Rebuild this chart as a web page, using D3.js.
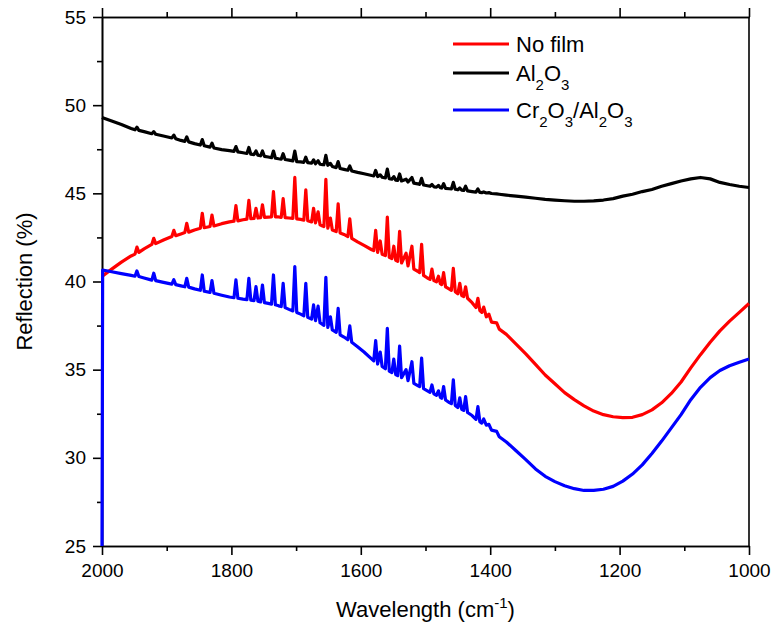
<!DOCTYPE html>
<html>
<head>
<meta charset="utf-8">
<script src="https://cdn.jsdelivr.net/npm/d3@7"></script>
<style>
  body { margin: 0; background: #fff; }
  svg { font-family: "Liberation Sans", Arial, sans-serif; }
</style>
</head>
<body>
<div id="chart"></div>
<script>
// wavenumber grid shared by the three spectra (cm-1)
var wave = [2000,1999,1985,1970,1955,1949,1946,1943,1935,1923,1920,1917,1905,1892,1889,1886,1878,1872,1869,1866,
  1857,1848,1845,1842,1833,1830,1827,1815,1803,1796,1793,1790,1782,1776,1773,1770,1765,1762,1759,1755,
  1752,1749,1743,1738,1735,1732,1727,1723,1720,1717,1711,1705,1702,1699,1693,1688,1685,1682,1676,1673,
  1670,1666,1663,1659,1657,1654,1651,1647,1644,1638,1635,1632,1626,1620,1617,1614,1605,1595,1583,1580,
  1577,1574,1570,1567,1562,1559,1556,1552,1549,1546,1543,1540,1537,1530,1527,1521,1518,1512,1509,1506,
  1503,1497,1493,1490,1487,1483,1480,1477,1475,1472,1469,1463,1460,1457,1454,1450,1447,1444,1441,1438,
  1435,1428,1422,1419,1416,1413,1410,1406,1402,1398,1390,1386,1375,1360,1345,1330,1315,1300,1285,1270,
  1255,1240,1225,1210,1195,1180,1165,1150,1135,1120,1105,1090,1075,1060,1045,1030,1015,1000];

var noFilm = [40.3,40.32,40.7,41.1,41.45,41.55,41.95,41.65,41.85,42.1,42.45,42.15,42.35,42.55,42.9,42.6,42.7,42.78,43.3,42.8,
  42.92,43.02,43.87,43.05,43.12,43.77,43.15,43.28,43.38,43.42,44.3,43.44,43.5,43.54,44.6,43.56,43.58,44.15,43.6,43.62,
  44.35,43.64,43.65,43.66,45.1,43.66,43.66,43.64,44.7,43.62,43.6,43.58,45.9,43.55,43.52,43.48,45.2,43.45,43.38,44.15,
  43.32,43.95,43.22,43.15,43.12,45.8,43.03,43.6,42.92,42.83,44.4,42.75,42.67,42.55,43.55,42.45,42.25,42.05,41.8,41.75,
  42.9,41.65,42.3,41.55,41.47,43.65,41.37,41.3,42.0,41.2,41.15,42.85,41.05,41.6,40.88,42.0,40.7,40.58,40.5,42.1,
  40.35,40.2,40.12,40.7,40.05,39.98,40.3,39.87,39.82,40.5,39.7,39.57,39.5,40.75,39.42,39.3,39.9,39.2,39.15,39.7,
  39.05,38.8,38.52,39.05,38.35,38.25,38.55,38.0,38.15,37.7,37.65,37.3,37.0,36.45,35.9,35.3,34.7,34.2,33.7,33.3,
  32.95,32.65,32.45,32.33,32.28,32.3,32.45,32.72,33.12,33.65,34.3,35.1,35.85,36.55,37.2,37.75,38.25,38.75];

var al2o3 = [49.3,49.28,49.1,48.9,48.68,48.6,48.75,48.57,48.5,48.38,48.5,48.35,48.25,48.14,48.3,48.1,48.0,47.95,48.2,47.92,
  47.82,47.74,48.05,47.7,47.62,47.85,47.57,47.48,47.42,47.38,47.65,47.35,47.3,47.26,47.6,47.22,47.2,47.4,47.16,47.13,
  47.4,47.1,47.06,47.02,47.4,46.99,46.96,46.94,47.25,46.92,46.88,46.84,47.4,46.8,46.78,46.76,47.05,46.74,46.71,46.9,
  46.68,46.85,46.65,46.63,46.62,47.15,46.59,46.7,46.52,46.46,46.8,46.41,46.36,46.31,46.55,46.27,46.19,46.11,46.01,45.99,
  46.3,45.95,46.05,45.91,45.88,46.37,45.83,45.8,45.95,45.75,45.73,46.1,45.7,45.8,45.64,45.9,45.58,45.54,45.51,45.85,
  45.47,45.43,45.4,45.5,45.37,45.35,45.45,45.32,45.3,45.55,45.28,45.26,45.25,45.62,45.23,45.2,45.3,45.18,45.16,45.4,
  45.14,45.1,45.07,45.25,45.05,45.04,45.08,45.02,45.04,44.99,44.97,44.95,44.9,44.84,44.78,44.72,44.66,44.62,44.58,44.55,
  44.55,44.57,44.62,44.7,44.84,44.95,45.1,45.22,45.4,45.55,45.7,45.82,45.9,45.82,45.62,45.5,45.4,45.33];

var cr2o3 = [25,40.65,40.55,40.45,40.35,40.3,40.6,40.28,40.2,40.08,40.47,40.05,39.95,39.85,40.1,39.82,39.75,39.7,40.18,39.68,
  39.58,39.5,40.37,39.45,39.38,40.05,39.33,39.22,39.12,39.08,40.09,39.05,39.0,38.97,40.18,38.94,38.92,39.71,38.88,38.84,
  39.8,38.8,38.76,38.72,40.37,38.68,38.62,38.58,39.9,38.52,38.42,38.33,40.84,38.24,38.15,38.06,39.9,37.97,37.87,38.67,
  37.78,38.6,37.66,37.56,37.52,40.24,37.4,38.0,37.25,37.12,38.48,36.98,36.85,36.7,37.48,36.55,36.3,36.0,35.6,35.5,
  36.65,35.32,36.0,35.18,35.05,37.35,34.92,34.84,35.6,34.72,34.66,36.34,34.55,35.0,34.38,35.45,34.22,34.1,34.04,35.65,
  33.92,33.8,33.72,34.13,33.63,33.55,33.8,33.43,33.38,34.04,33.28,33.13,33.07,34.42,32.97,32.85,33.4,32.75,32.69,33.47,
  32.57,32.4,32.18,32.9,32.05,31.97,32.2,31.85,31.9,31.57,31.5,31.2,30.9,30.4,29.9,29.37,28.95,28.65,28.42,28.25,
  28.15,28.15,28.22,28.38,28.68,29.08,29.6,30.25,30.95,31.7,32.45,33.3,34.0,34.55,34.95,35.22,35.42,35.6];

var seriesNames = ["No film", "Al2O3", "Cr2O3/Al2O3"];
var seriesColors = ["#ff0000", "#000000", "#0000ff"];
var xTicks = [2000, 1800, 1600, 1400, 1200, 1000];
var xMinor = [1900, 1700, 1500, 1300, 1100];
var yTicks = [25, 30, 35, 40, 45, 50, 55];
var yMinor = [27.5, 32.5, 37.5, 42.5, 47.5, 52.5];

var width = 773, height = 633;
var margin = {top: 17, right: 24, bottom: 87, left: 102};

var svg = d3.select("#chart").append("svg")
    .attr("width", width)
    .attr("height", height);

var x = d3.scaleLinear().domain([2000, 1000]).range([margin.left, width - margin.right]);
var y = d3.scaleLinear().domain([25, 55]).range([height - margin.bottom, margin.top]);

//axes: outward ticks, labels on left and bottom only
function styleAxis(g){
    g.selectAll("path, line").attr("stroke", "#000").attr("stroke-width", 1.6);
    g.selectAll("text").attr("fill", "#000").style("font-size", "19px")
        .style("font-family", "'Liberation Sans', Arial, sans-serif");
}

svg.append("g")
    .attr("transform", "translate(0," + y(25) + ")")
    .call(d3.axisBottom(x).tickValues(xTicks).tickFormat(d3.format("d")).tickSize(9).tickSizeOuter(0).tickPadding(9))
    .call(styleAxis);
svg.append("g")
    .attr("transform", "translate(0," + y(25) + ")")
    .call(d3.axisBottom(x).tickValues(xMinor).tickFormat("").tickSize(5).tickSizeOuter(0))
    .call(styleAxis);

svg.append("g")
    .attr("transform", "translate(0," + y(55) + ")")
    .call(d3.axisTop(x).tickValues(xTicks).tickFormat("").tickSize(9).tickSizeOuter(0))
    .call(styleAxis);
svg.append("g")
    .attr("transform", "translate(0," + y(55) + ")")
    .call(d3.axisTop(x).tickValues(xMinor).tickFormat("").tickSize(5).tickSizeOuter(0))
    .call(styleAxis);

svg.append("g")
    .attr("transform", "translate(" + x(2000) + ",0)")
    .call(d3.axisLeft(y).tickValues(yTicks).tickSize(9).tickSizeOuter(0).tickPadding(7))
    .call(styleAxis);
svg.append("g")
    .attr("transform", "translate(" + x(2000) + ",0)")
    .call(d3.axisLeft(y).tickValues(yMinor).tickFormat("").tickSize(5).tickSizeOuter(0))
    .call(styleAxis);

svg.append("line")
    .attr("x1", x(1000)).attr("x2", x(1000))
    .attr("y1", y(55)).attr("y2", y(25))
    .attr("stroke", "#000").attr("stroke-width", 1.6);

//the spectra
svg.append("clipPath").attr("id", "plotClip")
    .append("rect")
    .attr("x", x(2000) - 2).attr("y", y(55))
    .attr("width", x(1000) - x(2000) + 4).attr("height", y(25) - y(55));

var line = d3.line()
    .x(function(d){ return x(d[0]); })
    .y(function(d){ return y(d[1]); });

var allSeries = [noFilm, al2o3, cr2o3];
allSeries.forEach(function(vals, i){
    svg.append("path")
        .datum(d3.zip(wave, vals))
        .attr("clip-path", "url(#plotClip)")
        .attr("fill", "none")
        .attr("stroke", seriesColors[i])
        .attr("stroke-width", 3.2)
        .attr("stroke-linejoin", "round")
        .attr("d", line);
});

//legend
var legendRows = [44, 73, 110];
var legend = svg.append("g");
seriesNames.forEach(function(name, i){
    legend.append("line")
        .attr("x1", 453).attr("x2", 509)
        .attr("y1", legendRows[i]).attr("y2", legendRows[i])
        .attr("stroke", seriesColors[i]).attr("stroke-width", 3);
    var t = legend.append("text")
        .attr("x", 516).attr("y", legendRows[i] + 8)
        .style("font-size", "22px");
    //digits in chemical formulas are drawn as subscripts
    name.split(/(\d)/).forEach(function(part, j){
        if (part === "") return;
        if (j % 2 == 1) {
            t.append("tspan").text(part).attr("dy", 9).style("font-size", "15px");
        } else {
            var ts = t.append("tspan").text(part);
            if (j > 0) ts.attr("dy", -9);
        }
    });
});

//axis titles
svg.append("text")
    .attr("x", (x(2000) + x(1000)) / 2)
    .attr("y", 617)
    .attr("text-anchor", "middle")
    .style("font-size", "22px")
    .text("Wavelength (cm")
    .append("tspan").text("-1").attr("dy", -9).style("font-size", "15px")
    .select(function(){ return this.parentNode; })
    .append("tspan").text(")").attr("dy", 9);

svg.append("text")
    .attr("transform", "translate(32," + (y(25) + y(55)) / 2 + ") rotate(-90)")
    .attr("text-anchor", "middle")
    .style("font-size", "22px")
    .text("Reflection (%)");
</script>
</body>
</html>
